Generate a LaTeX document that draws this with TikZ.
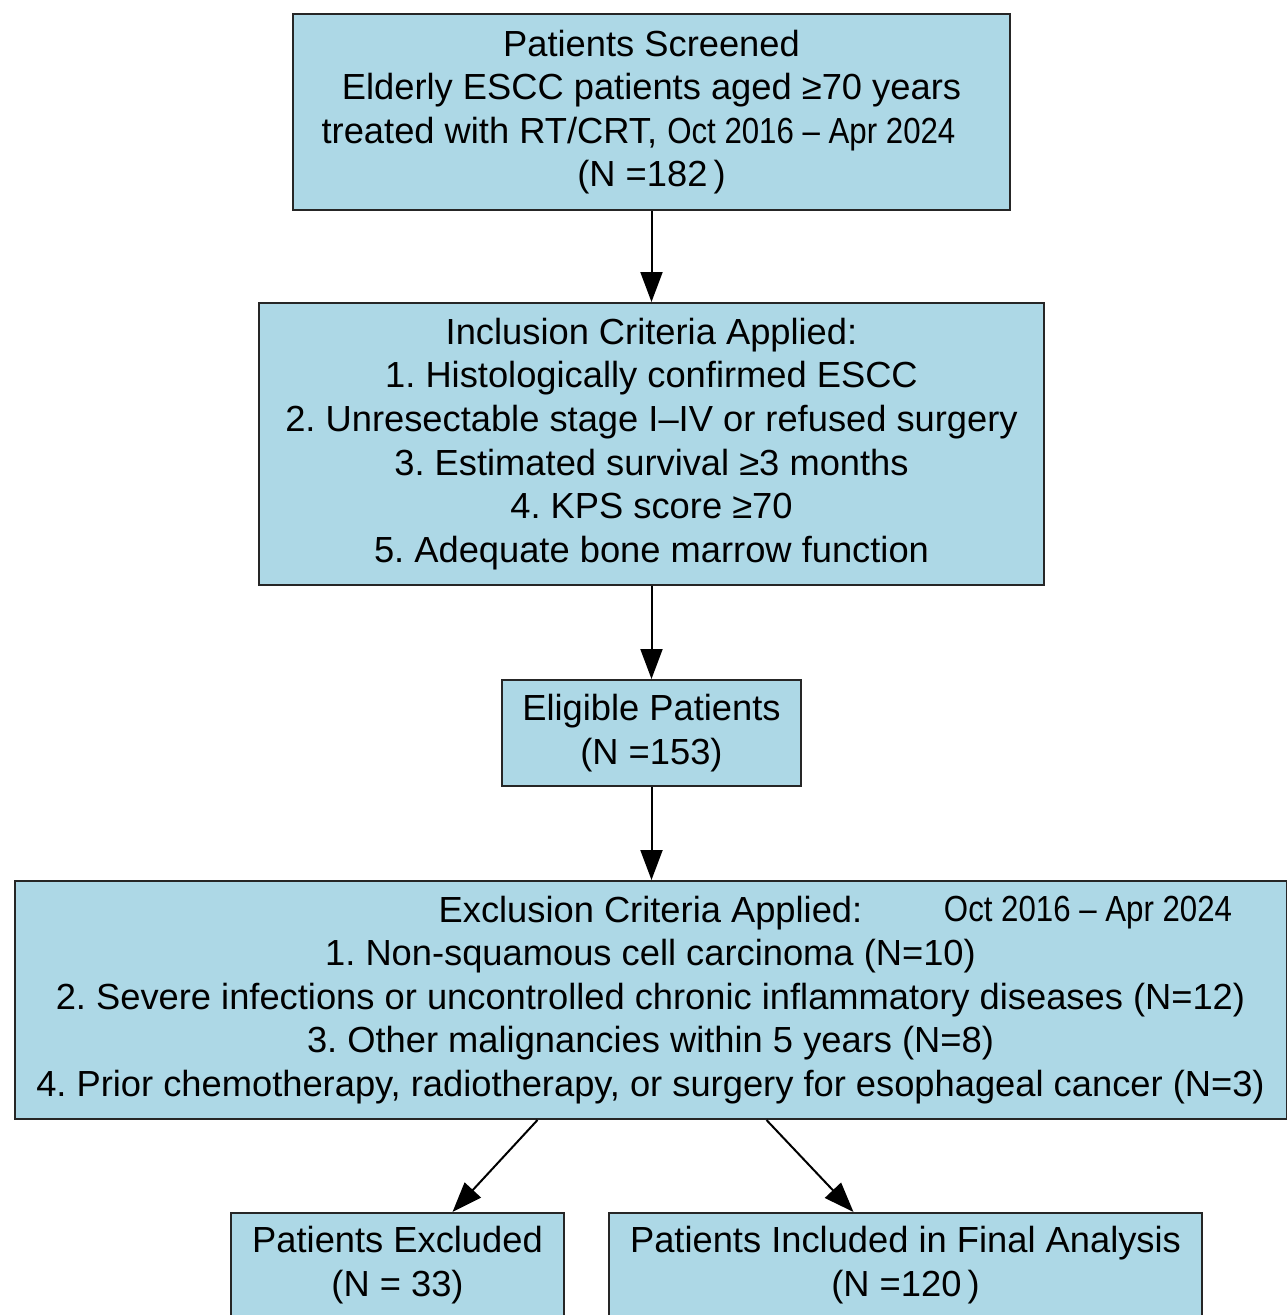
\documentclass[tikz,border=0pt]{standalone}
\usepackage{fontspec}
\setmainfont{Liberation Sans}
\newfontfamily\condfont[FakeStretch=0.86]{Liberation Sans}
\usetikzlibrary{arrows.meta}
\definecolor{boxblue}{HTML}{ADD8E6}
\frenchspacing
\begin{document}
\begin{tikzpicture}[x=1pt,y=-1pt,
  box/.style={draw=black!85, line width=2pt, fill=boxblue, align=center, inner sep=0pt,
    font=\fontsize{36.3}{43.6}\selectfont},
  arr/.style={line width=2pt, -{Triangle[length=30pt,width=22pt]}}]
\useasboundingbox (0,0) rectangle (1287,1315);
\fill[white] (0,0) rectangle (1287,1315);
\node[box, minimum width=717pt, minimum height=196pt] (screen) at (651.5,112)
  {Patients Screened\\ Elderly ESCC patients aged ≥70 years\\ treated with RT/CRT, {\condfont Oct 2016 – Apr 2024}\kern26pt\\ (N =182\,)};
\node[box, minimum width=785pt, minimum height=282pt] (incl) at (651.5,444)
  {Inclusion Criteria Applied:\\ 1. Histologically confirmed ESCC\\ 2. Unresectable stage I–IV or refused surgery\\ 3. Estimated survival ≥3 months\\ 4. KPS score ≥70\\ 5. Adequate bone marrow function};
\node[box, minimum width=299pt, minimum height=106pt] (elig) at (651.5,733)
  {Eligible Patients\\ (N =153)};
\node[box, minimum width=1272pt, minimum height=238pt] (excl) at (650.5,1000)
  {Exclusion Criteria Applied:\\ 1. Non-squamous cell carcinoma (N=10)\\ 2. Severe infections or uncontrolled chronic inflammatory diseases (N=12)\\ 3. Other malignancies within 5 years (N=8)\\ 4. Prior chemotherapy, radiotherapy, or surgery for esophageal cancer (N=3)};
\node[font=\fontsize{36.3}{40}\condfont, inner sep=0pt] (date) at (1088,913) {Oct 2016 – Apr 2024};
\node[box, minimum width=333pt, minimum height=104pt] (excluded) at (397.5,1265)
  {Patients Excluded\\ (N = 33)};
\node[box, minimum width=593pt, minimum height=104pt] (included) at (905.5,1265)
  {Patients Included in Final Analysis\\ (N =120\,)};
\draw[arr] (screen.south) -- (incl.north);
\draw[arr] (incl.south) -- (elig.north);
\draw[arr] (elig.south) -- (excl.north -| elig.south);
\draw[arr] ([xshift=-113pt]excl.south) -- ([xshift=55pt]excluded.north);
\draw[arr] ([xshift=116pt]excl.south) -- ([xshift=-52pt]included.north);
\end{tikzpicture}
\end{document}
